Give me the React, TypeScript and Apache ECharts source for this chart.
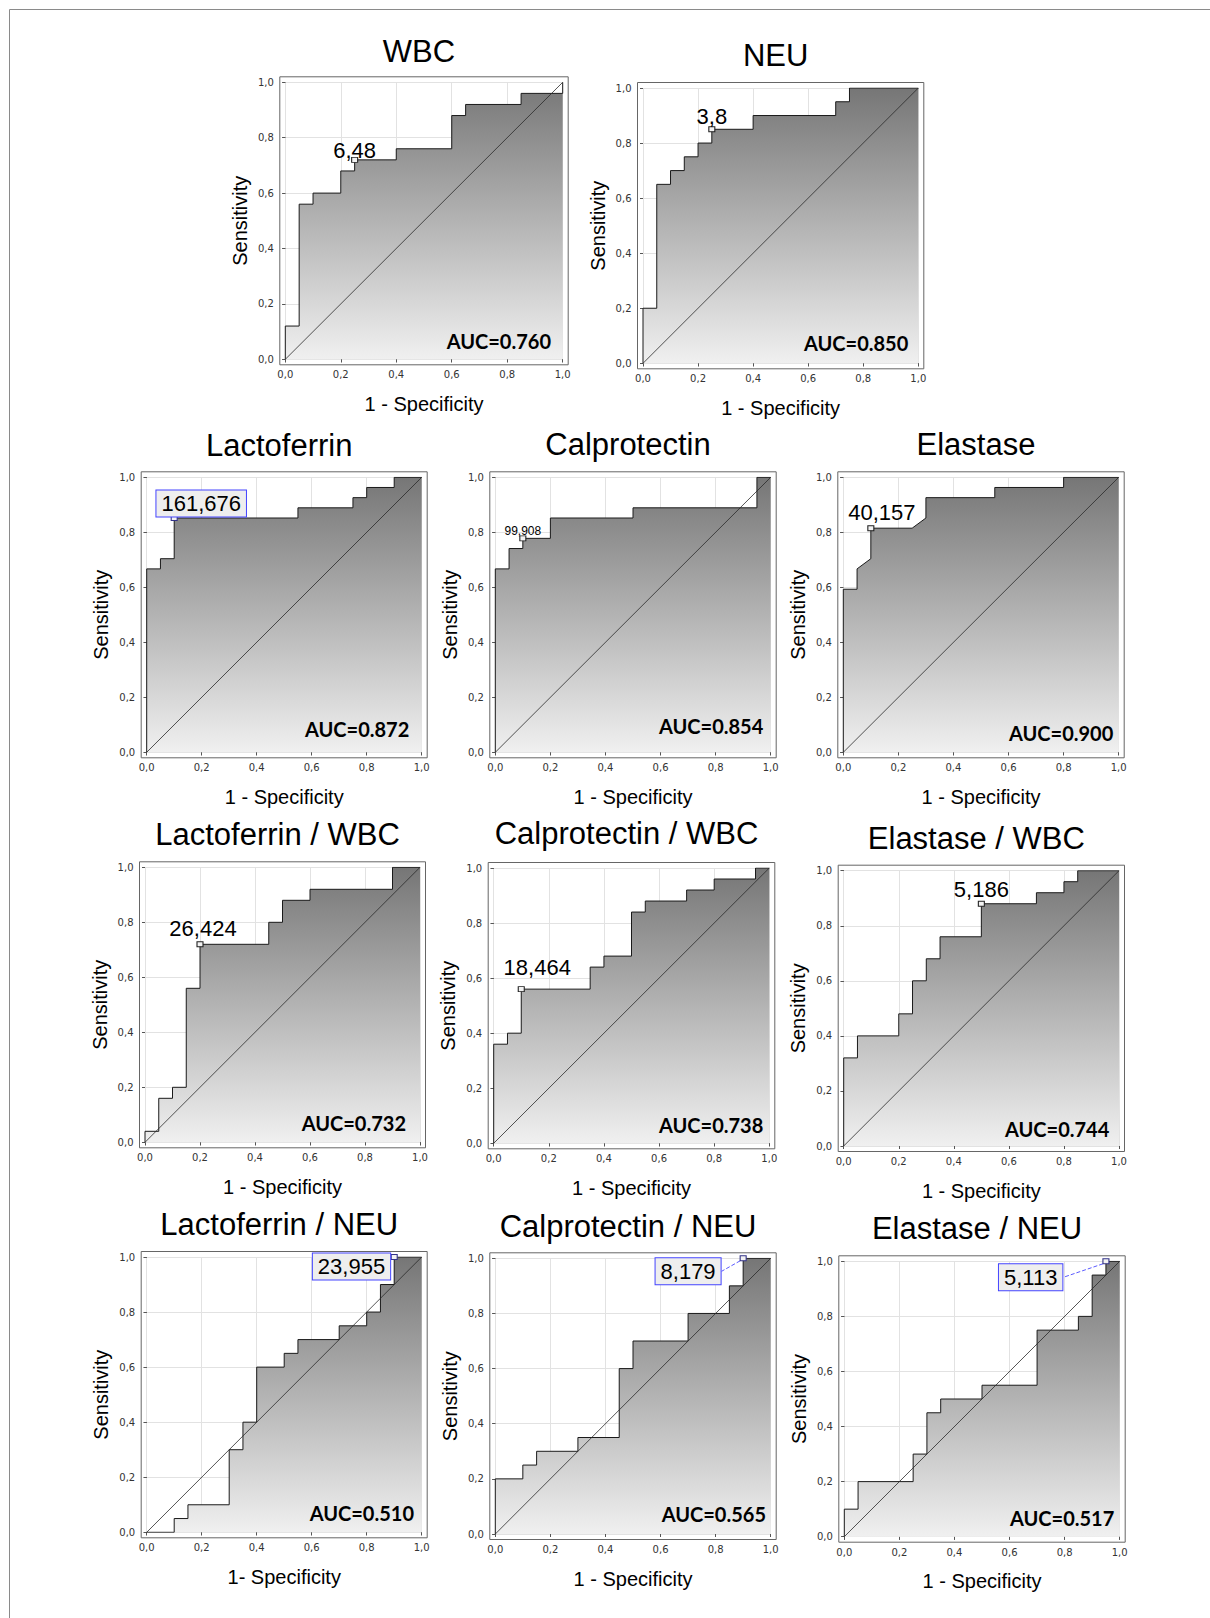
import React, { useEffect, useRef } from "react";
import * as echarts from "echarts";

// ---- ROC curve data: 1 - specificity (fpr) and sensitivity (tpr) ----
const wbcFpr = [0, 0, 0.05, 0.05, 0.1, 0.1, 0.2, 0.2, 0.25, 0.25, 0.4, 0.4, 0.6, 0.6, 0.65, 0.65, 0.85, 0.85, 1, 1];
const wbcTpr = [0, 0.12, 0.12, 0.56, 0.56, 0.6, 0.6, 0.68, 0.68, 0.72, 0.72, 0.76, 0.76, 0.88, 0.88, 0.92, 0.92, 0.96, 0.96, 1];

const neuFpr = [0, 0, 0.05, 0.05, 0.1, 0.1, 0.15, 0.15, 0.2, 0.2, 0.25, 0.25, 0.4, 0.4, 0.7, 0.7, 0.75, 0.75, 1];
const neuTpr = [0, 0.2, 0.2, 0.65, 0.65, 0.7, 0.7, 0.75, 0.75, 0.8, 0.8, 0.85, 0.85, 0.9, 0.9, 0.95, 0.95, 1, 1];

const lactoFpr = [0, 0, 0.05, 0.05, 0.1, 0.1, 0.55, 0.55, 0.75, 0.75, 0.8, 0.8, 0.9, 0.9, 1];
const lactoTpr = [0, 0.667, 0.667, 0.704, 0.704, 0.852, 0.852, 0.889, 0.889, 0.926, 0.926, 0.963, 0.963, 1, 1];

const calproFpr = [0, 0, 0.05, 0.05, 0.1, 0.1, 0.2, 0.2, 0.5, 0.5, 0.95, 0.95, 1];
const calproTpr = [0, 0.667, 0.667, 0.741, 0.741, 0.778, 0.778, 0.852, 0.852, 0.889, 0.889, 1, 1];

const elastFpr = [0, 0, 0.05, 0.05, 0.1, 0.1, 0.25, 0.3, 0.3, 0.55, 0.55, 0.8, 0.8, 1];
const elastTpr = [0, 0.593, 0.593, 0.667, 0.704, 0.815, 0.815, 0.852, 0.926, 0.926, 0.963, 0.963, 1, 1];

const lactoWbcFpr = [0, 0, 0.05, 0.05, 0.1, 0.1, 0.15, 0.15, 0.2, 0.2, 0.45, 0.45, 0.5, 0.5, 0.6, 0.6, 0.9, 0.9, 1];
const lactoWbcTpr = [0, 0.04, 0.04, 0.16, 0.16, 0.2, 0.2, 0.56, 0.56, 0.72, 0.72, 0.8, 0.8, 0.88, 0.88, 0.92, 0.92, 1, 1];

const calproWbcFpr = [0, 0, 0.05, 0.05, 0.1, 0.1, 0.35, 0.35, 0.4, 0.4, 0.5, 0.5, 0.55, 0.55, 0.7, 0.7, 0.8, 0.8, 0.95, 0.95, 1];
const calproWbcTpr = [0, 0.36, 0.36, 0.4, 0.4, 0.56, 0.56, 0.64, 0.64, 0.68, 0.68, 0.84, 0.84, 0.88, 0.88, 0.92, 0.92, 0.96, 0.96, 1, 1];

const elastWbcFpr = [0, 0, 0.05, 0.05, 0.2, 0.2, 0.25, 0.25, 0.3, 0.3, 0.35, 0.35, 0.5, 0.5, 0.7, 0.7, 0.8, 0.8, 0.85, 0.85, 1];
const elastWbcTpr = [0, 0.32, 0.32, 0.4, 0.4, 0.48, 0.48, 0.6, 0.6, 0.68, 0.68, 0.76, 0.76, 0.88, 0.88, 0.92, 0.92, 0.96, 0.96, 1, 1];

const lactoNeuFpr = [0, 0.1, 0.1, 0.15, 0.15, 0.3, 0.3, 0.35, 0.35, 0.4, 0.4, 0.5, 0.5, 0.55, 0.55, 0.7, 0.7, 0.8, 0.8, 0.85, 0.85, 0.9, 0.9, 1];
const lactoNeuTpr = [0, 0, 0.05, 0.05, 0.1, 0.1, 0.3, 0.3, 0.4, 0.4, 0.6, 0.6, 0.65, 0.65, 0.7, 0.7, 0.75, 0.75, 0.8, 0.8, 0.9, 0.9, 1, 1];

const calproNeuFpr = [0, 0, 0.1, 0.1, 0.15, 0.15, 0.3, 0.3, 0.45, 0.45, 0.5, 0.5, 0.7, 0.7, 0.85, 0.85, 0.9, 0.9, 1];
const calproNeuTpr = [0, 0.2, 0.2, 0.25, 0.25, 0.3, 0.3, 0.35, 0.35, 0.6, 0.6, 0.7, 0.7, 0.8, 0.8, 0.9, 0.9, 1, 1];

const elastNeuFpr = [0, 0, 0.05, 0.05, 0.25, 0.25, 0.3, 0.3, 0.35, 0.35, 0.5, 0.5, 0.7, 0.7, 0.85, 0.85, 0.9, 0.9, 0.95, 0.95, 1];
const elastNeuTpr = [0, 0.1, 0.1, 0.2, 0.2, 0.3, 0.3, 0.45, 0.45, 0.5, 0.5, 0.55, 0.55, 0.75, 0.75, 0.8, 0.8, 0.95, 0.95, 1, 1];

// ---- panel texts ----
const titles = [
  "WBC", "NEU", "Lactoferrin", "Calprotectin", "Elastase",
  "Lactoferrin / WBC", "Calprotectin / WBC", "Elastase / WBC",
  "Lactoferrin / NEU", "Calprotectin / NEU", "Elastase / NEU",
];
const aucValues = ["0.760", "0.850", "0.872", "0.854", "0.900", "0.732", "0.738", "0.744", "0.510", "0.565", "0.517"];
const cutoffLabels = ["6,48", "3,8", "161,676", "99,908", "40,157", "26,424", "18,464", "5,186", "23,955", "8,179", "5,113"];
const cutoffPoints = [
  [0.25, 0.72], [0.25, 0.85], [0.1, 0.852], [0.1, 0.778], [0.1, 0.815],
  [0.2, 0.72], [0.1, 0.56], [0.5, 0.88], [0.9, 1.0], [0.9, 1.0], [0.95, 1.0],
];
const xNames = [
  "1 - Specificity", "1 - Specificity", "1 - Specificity", "1 - Specificity", "1 - Specificity",
  "1 - Specificity", "1 - Specificity", "1 - Specificity", "1- Specificity", "1 - Specificity", "1 - Specificity",
];
const yName = "Sensitivity";
const curves = [
  [wbcFpr, wbcTpr], [neuFpr, neuTpr], [lactoFpr, lactoTpr], [calproFpr, calproTpr], [elastFpr, elastTpr],
  [lactoWbcFpr, lactoWbcTpr], [calproWbcFpr, calproWbcTpr], [elastWbcFpr, elastWbcTpr],
  [lactoNeuFpr, lactoNeuTpr], [calproNeuFpr, calproNeuTpr], [elastNeuFpr, elastNeuTpr],
];
const diagonal = [[0, 0], [1, 1]];

// ---- layout (pixels) ----
const layouts = [
  { left: 285.3, top: 82.3, w: 277.4, h: 277, titleY: 62, aucDx: 11.7, aucDy: 11 },
  { left: 643, top: 88, w: 275.3, h: 275.3, titleY: 66, aucDx: 10, aucDy: 13 },
  { left: 146.7, top: 477.3, w: 275, h: 275, titleY: 456, aucDx: 12.4, aucDy: 16 },
  { left: 495.3, top: 477.3, w: 275.4, h: 275, titleY: 455, aucDx: 7.4, aucDy: 19 },
  { left: 843.3, top: 477.3, w: 275.4, h: 275, titleY: 455, aucDx: 5.4, aucDy: 12 },
  { left: 145, top: 867.3, w: 275, h: 275, titleY: 845, aucDx: 14, aucDy: 11.6 },
  { left: 493.7, top: 868, w: 275.6, h: 275.3, titleY: 844, aucDx: 6, aucDy: 10.7 },
  { left: 843.7, top: 870.7, w: 275.3, h: 275.3, titleY: 849, aucDx: 9.7, aucDy: 9.3 },
  { left: 146.7, top: 1257, w: 275, h: 275.3, titleY: 1235, aucDx: 7.7, aucDy: 12 },
  { left: 495.3, top: 1258.3, w: 275.4, h: 275.7, titleY: 1237, aucDx: 4.7, aucDy: 12.3 },
  { left: 844.3, top: 1261.3, w: 275.4, h: 275.4, titleY: 1239, aucDx: 5.4, aucDy: 10.7 },
];
const labelStyles: any[] = [
  { pos: "top", dist: -4.8, offset: [0, 0], size: 22 },
  { pos: "top", dist: -0.8, offset: [0, 0], size: 22 },
  { pos: "top", dist: -1.5, offset: [27, 0], size: 22, boxed: true },
  { pos: "top", dist: -1.3, offset: [0, 0], size: 12 },
  { pos: "top", dist: 2.2, offset: [11, 0], size: 22 },
  { pos: "top", dist: 2.2, offset: [3, 0], size: 22 },
  { pos: "top", dist: 7.2, offset: [16, 0], size: 22 },
  { pos: "top", dist: 0.2, offset: [0, 0], size: 22 },
  { pos: "left", dist: 0.5, offset: [0, 9.5], size: 22, boxed: true },
  { pos: "left", dist: 0, offset: [0, 0], size: 22, boxed: true, leader: [-19, 13] },
  { pos: "left", dist: 0, offset: [0, 0], size: 22, boxed: true, leader: [-40, 16] },
];
const PAD = 5.5;

const fmt = (v: number) => v.toFixed(1).replace(".", ",");

function buildOption() {
  const grid: any[] = [];
  const xAxis: any[] = [];
  const yAxis: any[] = [];
  const series: any[] = [];
  const graphic: any[] = [];

  layouts.forEach((l, i) => {
    grid.push({ left: l.left, top: l.top, width: l.w, height: l.h, containLabel: false });
    const common = {
      gridIndex: i,
      type: "value",
      min: 0,
      max: 1,
      interval: 0.2,
      offset: PAD,
      axisLine: { show: false },
      axisTick: { show: true, length: 3, lineStyle: { color: "#444", width: 1 } },
      splitLine: { show: true, lineStyle: { color: "#e2e2e2", width: 1 } },
      nameLocation: "middle",
      nameTextStyle: { fontSize: 20, fontFamily: "Liberation Sans, Arial, sans-serif", color: "#000" },
    };
    const labelStyle = { fontSize: 10, color: "#333", fontFamily: "DejaVu Sans, sans-serif", formatter: fmt };
    xAxis.push({
      ...common,
      position: "bottom",
      name: xNames[i],
      nameGap: 29,
      axisLabel: { margin: 5, ...labelStyle },
    });
    yAxis.push({
      ...common,
      position: "left",
      name: yName,
      nameGap: 30,
      axisLabel: { margin: 6, ...labelStyle },
    });
    // frame-side ticks on top and right
    const sideTicks = {
      gridIndex: i,
      type: "value",
      min: 0,
      max: 1,
      interval: 0.2,
      offset: PAD,
      axisLine: { show: false },
      axisLabel: { show: false },
      splitLine: { show: false },
      axisTick: { show: true, inside: true, length: 3, lineStyle: { color: "#555", width: 1 } },
    };
    xAxis.push({ ...sideTicks, position: "top" });
    yAxis.push({ ...sideTicks, position: "right" });

    const [fpr, tpr] = curves[i];
    series.push({
      type: "line",
      xAxisIndex: 2 * i,
      yAxisIndex: 2 * i,
      data: fpr.map((x, k) => [x, tpr[k]]),
      symbol: "none",
      silent: true,
      z: 2,
      lineStyle: { color: "#1a1a1a", width: 1 },
      areaStyle: {
        opacity: 1,
        color: new echarts.graphic.LinearGradient(0, 0, 0, 1, [
          { offset: 0, color: "#767676" },
          { offset: 1, color: "#f0f0f0" },
        ]),
      },
    });
    series.push({
      type: "line",
      xAxisIndex: 2 * i,
      yAxisIndex: 2 * i,
      data: diagonal,
      symbol: "none",
      silent: true,
      z: 3,
      lineStyle: { color: "#2a2a2a", width: 0.8 },
    });
    const ls = labelStyles[i];
    const label: any = {
      show: true,
      formatter: cutoffLabels[i],
      position: ls.pos,
      distance: ls.dist,
      offset: ls.offset,
      fontSize: ls.size,
      fontFamily: "Liberation Sans, Arial, sans-serif",
      color: "#000",
      opacity: 1,
    };
    if (ls.boxed) {
      Object.assign(label, {
        backgroundColor: "#eeeeee",
        borderColor: "#4444ff",
        borderWidth: 1,
        padding: [2, 5],
      });
    }
    const sc: any = {
      type: "scatter",
      xAxisIndex: 2 * i,
      yAxisIndex: 2 * i,
      data: [cutoffPoints[i]],
      symbol: "rect",
      symbolSize: [6, 5],
      z: 5,
      silent: true,
      itemStyle: {
        color: "#f2f2f2",
        borderColor: ls.boxed ? "#333388" : "#222",
        borderWidth: 1,
        opacity: 1,
      },
      label,
    };
    if (ls.leader) {
      sc.labelLayout = { dx: ls.leader[0], dy: ls.leader[1] };
      sc.labelLine = { show: true, lineStyle: { color: "#5a5aff", width: 1, type: "dashed", opacity: 1 } };
    }
    series.push(sc);

    // frame around plot
    graphic.push({
      type: "rect",
      silent: true,
      z: 10,
      shape: { x: l.left - PAD, y: l.top - PAD, width: l.w + 2 * PAD, height: l.h + 2 * PAD },
      style: { fill: "none", stroke: "#666666", lineWidth: 1 },
    });
    // title
    graphic.push({
      type: "text",
      silent: true,
      x: l.left + l.w / 2 - 5,
      y: l.titleY + 4.8,
      style: {
        text: titles[i],
        font: "31px 'Liberation Sans', Arial, sans-serif",
        fill: "#000",
        align: "center",
        verticalAlign: "bottom",
        textAlign: "center",
        textVerticalAlign: "bottom",
      },
    });
    // AUC
    graphic.push({
      type: "text",
      silent: true,
      z: 12,
      x: l.left + l.w - l.aucDx,
      y: l.top + l.h - l.aucDy + 2.3,
      style: {
        text: "AUC=" + aucValues[i],
        font: "bold 20px Lato, sans-serif",
        fill: "#000",
        align: "right",
        verticalAlign: "bottom",
        textAlign: "right",
        textVerticalAlign: "bottom",
      },
    });
  });

  // page border lines
  graphic.push({
    type: "line",
    silent: true,
    shape: { x1: 9.5, y1: 9.5, x2: 1210, y2: 9.5 },
    style: { stroke: "#8a8a8a", lineWidth: 1 },
  });
  graphic.push({
    type: "line",
    silent: true,
    shape: { x1: 9.5, y1: 9.5, x2: 9.5, y2: 1618 },
    style: { stroke: "#8a8a8a", lineWidth: 1 },
  });

  return {
    animation: false,
    backgroundColor: "#ffffff",
    grid,
    xAxis,
    yAxis,
    series,
    graphic,
  };
}

export default function App() {
  const ref = useRef<HTMLDivElement>(null);
  useEffect(() => {
    if (!ref.current) return;
    const chart = echarts.init(ref.current, undefined, { renderer: "svg" });
    chart.setOption(buildOption() as any);
    return () => chart.dispose();
  }, []);
  return (
    <div
      ref={ref}
      style={{ position: "absolute", left: 0, top: 0, width: 1210, height: 1618, background: "#fff" }}
    />
  );
}
